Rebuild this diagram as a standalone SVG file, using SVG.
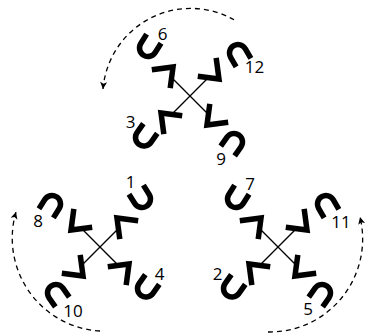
<svg xmlns="http://www.w3.org/2000/svg" xmlns:xlink="http://www.w3.org/1999/xlink" width="367" height="335" viewBox="0 0 367 335">
<style>
.ln{stroke:#000;stroke-width:1.3;fill:none}
.chev{stroke:#000;stroke-width:5.5;fill:none;stroke-linejoin:miter;stroke-miterlimit:10}
.u{stroke:#000;stroke-width:5.5;fill:none}
.arc{stroke:#000;stroke-width:1.3;fill:none;stroke-dasharray:5,4}
.lbl{font-family:"Open Sans","Noto Sans",sans-serif;font-size:17px;fill:#000;text-anchor:middle}
</style>
<defs>
<marker id="ah" markerUnits="userSpaceOnUse" markerWidth="10" markerHeight="10" viewBox="-8 -5 10 10" refX="0" refY="0" orient="auto">
<path d="M0,0 L-7,-3.5 L-5.3,0 L-7,3.5 Z" fill="#000"/>
</marker>
<g id="arm">
<line x1="0" y1="0" x2="24" y2="0" class="ln"/>
<polyline points="19.5,-8.5 32.5,8.5 45.5,-8.5" class="chev"/>
</g>
<g id="cross">
<use xlink:href="#arm" transform="rotate(225)"/>
<use xlink:href="#arm" transform="rotate(315)"/>
<use xlink:href="#arm" transform="rotate(45)"/>
<use xlink:href="#arm" transform="rotate(135)"/>
</g>
<path id="cup" d="M-8.5,-11 V0 A8.5,8.5 0 0 0 8.5,0 V-11" class="u"/>
</defs>
<g id="connectors">
<path class="arc" d="M234,19.8 A88,88 0 0 0 103,89" marker-end="url(#ah)"/>
<path class="arc" d="M100,331 A93,93 0 0 1 16,212" marker-end="url(#ah)"/>
<path class="arc" d="M268,332 A93,93 0 0 0 360,217" marker-end="url(#ah)"/>
</g>
<g id="cluster-top" transform="translate(190,96)">
<use xlink:href="#cross"/>
<use xlink:href="#cup" transform="translate(-42,-48) rotate(32)"/>
<use xlink:href="#cup" transform="translate(48,-43) rotate(150)"/>
<use xlink:href="#cup" transform="translate(44,46) rotate(215)"/>
<use xlink:href="#cup" transform="translate(-46,41.5) rotate(35)"/>
</g>
<g id="cluster-left" transform="translate(100,247)">
<use xlink:href="#cross" transform="scale(-1,1)"/>
<use xlink:href="#cup" transform="translate(42,-48) rotate(-32)"/>
<use xlink:href="#cup" transform="translate(-48,-43) rotate(212)"/>
<use xlink:href="#cup" transform="translate(-44,46) rotate(145)"/>
<use xlink:href="#cup" transform="translate(46,41.5) rotate(35)"/>
</g>
<g id="cluster-right" transform="translate(278,247)">
<use xlink:href="#cross"/>
<use xlink:href="#cup" transform="translate(-42,-48) rotate(32)"/>
<use xlink:href="#cup" transform="translate(48,-43) rotate(150)"/>
<use xlink:href="#cup" transform="translate(44,46) rotate(215)"/>
<use xlink:href="#cup" transform="translate(-46,41.5) rotate(35)"/>
</g>
<g id="labels">
<text class="lbl" x="162.5" y="40">6</text>
<text class="lbl" x="254.5" y="73">12</text>
<text class="lbl" x="130.5" y="128">3</text>
<text class="lbl" x="221" y="165">9</text>
<text class="lbl" x="130.5" y="188">1</text>
<text class="lbl" x="38" y="227">8</text>
<text class="lbl" x="73" y="317">10</text>
<text class="lbl" x="159.5" y="280">4</text>
<text class="lbl" x="250" y="190">7</text>
<text class="lbl" x="341" y="228">11</text>
<text class="lbl" x="217.5" y="280">2</text>
<text class="lbl" x="308" y="315">5</text>
</g>
</svg>
